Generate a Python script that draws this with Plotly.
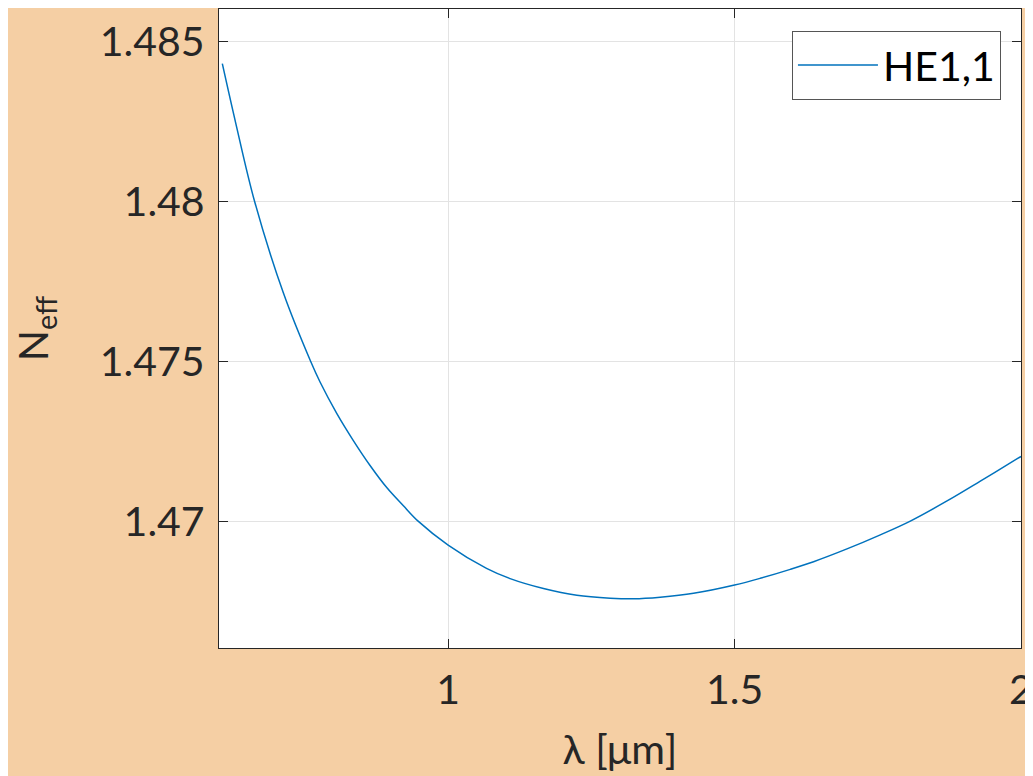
import plotly.graph_objects as go

# Values
lambda_um = [0.6058, 0.6291, 0.6623, 0.7123, 0.7601, 0.7764, 0.8055, 0.8345, 0.8637,
             0.8928, 0.9219, 0.9481, 1.0, 1.0670, 1.1082, 1.1664, 1.2247, 1.2829,
             1.3236, 1.3702, 1.4284, 1.5, 1.5448, 1.5972, 1.6379, 1.6962, 1.7544,
             1.8068, 1.8709, 1.9290, 1.9942, 2.0]
n_eff = [1.48432, 1.48247, 1.48000, 1.47715, 1.47500, 1.47436, 1.47338, 1.47253, 1.47175,
         1.47106, 1.47049, 1.47000, 1.46926, 1.46853, 1.46821, 1.46790, 1.46769, 1.46760,
         1.46758, 1.46763, 1.46775, 1.46801, 1.46822, 1.46850, 1.46874, 1.46914, 1.46958,
         1.47001, 1.47064, 1.47126, 1.47197, 1.47203]
series_name = "HE1,1"
x_ticks = [1, 1.5, 2]
x_tick_labels = ["1", "1.5", "2"]
y_ticks = [1.47, 1.475, 1.48, 1.485]
y_tick_labels = ["1.47", "1.475", "1.48", "1.485"]

FONT = "Lato"
DARK = "#262626"
GRID = "#E3E3E3"
FS = 41

fig = go.Figure()
fig.add_trace(go.Scatter(
    x=lambda_um, y=n_eff, mode="lines", name=series_name,
    line=dict(color="#0072BD", width=1.5, shape="spline", smoothing=1),
))

axis_common = dict(
    showline=True, linecolor=DARK, linewidth=1.3, mirror="ticks",
    ticks="inside", ticklen=9, tickwidth=1.3, tickcolor=DARK,
    showgrid=True, gridcolor=GRID, gridwidth=1, zeroline=False,
    tickfont=dict(family=FONT, size=FS, color=DARK),
    automargin=False,
)

fig.update_xaxes(
    range=[0.6, 2], tickvals=x_ticks, ticktext=x_tick_labels,
    ticklabelstandoff=6,
    title=dict(text="λ [μm]", font=dict(family=FONT, size=FS, color=DARK), standoff=22),
    **axis_common,
)
fig.update_yaxes(
    range=[1.46604, 1.48603], tickvals=y_ticks, ticktext=y_tick_labels,
    ticklabelstandoff=5,
    title=dict(text="N<sub>eff</sub>", font=dict(family=FONT, size=FS, color=DARK), standoff=45),
    **axis_common,
)

# page body has an 8px margin in the browser, so the figure is sized/offset to fit the window
fig.update_layout(
    width=1025, height=768,
    margin=dict(l=211, r=12, t=1, b=128, pad=0),
    paper_bgcolor="#F5CFA4", plot_bgcolor="white",
    showlegend=True,
    legend=dict(
        x=0.975, y=0.966, xanchor="right", yanchor="top",
        bgcolor="white", bordercolor="#555555", borderwidth=1,
        font=dict(family=FONT, size=FS, color="black"),
        itemwidth=80,
    ),
)

fig.write_html("out.html")
